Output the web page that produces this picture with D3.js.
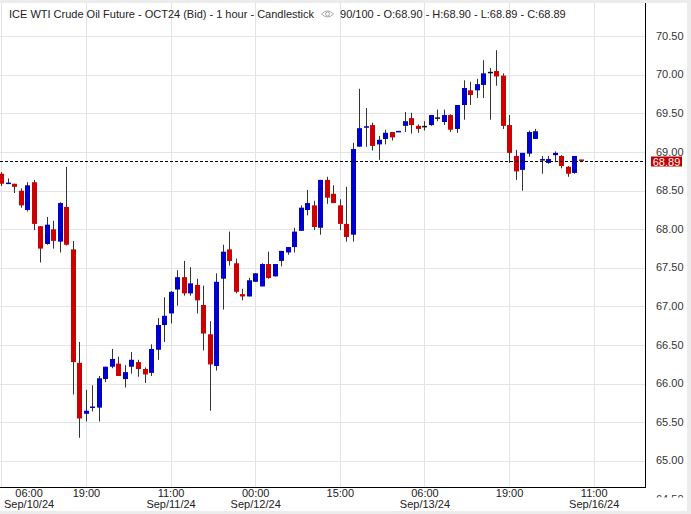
<!DOCTYPE html>
<html><head><meta charset="utf-8">
<script src="https://cdn.jsdelivr.net/npm/d3@7"></script>
<style>
html,body{margin:0;padding:0;background:#ececec;}
svg{display:block;font-family:"Liberation Sans",Arial,sans-serif;}
</style>
</head><body>
<svg id="chart" width="691" height="514"></svg>
<script>
// ---- data (hourly candles, index 0 = 06:00 Sep/10/24) ----
const openV  = [68.72,68.59,68.59,68.50,68.25,68.61,68.04,67.81,68.00,67.84,68.29,67.74,66.27,65.61,65.69,65.69,66.06,66.22,66.26,66.06,
66.22,66.28,66.19,66.14,66.44,66.76,66.91,67.22,67.38,67.17,67.28,67.02,66.64,66.23,67.36,67.74,67.56,67.16,67.13,67.32,
67.26,67.55,67.39,67.59,67.70,67.77,67.98,68.25,68.31,68.02,68.64,68.46,68.31,68.07,67.93,69.07,69.32,69.35,69.10,69.17,
69.26,69.26,69.34,69.44,69.34,69.33,69.35,69.44,69.39,69.48,69.30,69.61,69.80,69.80,69.87,70.03,70.05,69.99,69.35,68.95,
68.77,68.98,69.17,68.89,68.86,68.96,68.95,68.81,68.73,68.90];
const highV  = [68.74,68.66,68.59,68.53,68.61,68.64,68.04,68.16,68.11,68.35,68.81,67.85,66.54,65.92,65.98,66.10,66.22,66.45,66.35,66.24,
66.41,66.31,66.21,66.51,66.85,67.12,67.20,67.47,67.59,67.51,67.36,67.27,66.81,67.43,67.80,67.97,67.62,67.23,67.37,67.43,
67.56,67.71,67.55,67.72,67.77,68.02,68.31,68.51,68.37,68.64,68.68,68.57,68.39,68.55,69.12,69.82,69.57,69.38,69.21,69.29,
69.26,69.27,69.52,69.51,69.36,69.40,69.48,69.55,69.55,69.49,69.61,69.93,69.91,69.95,70.19,70.09,70.32,70.02,69.48,69.03,
68.99,69.28,69.30,68.95,68.95,69.01,68.96,68.82,68.95,68.90];
const lowV   = [68.56,68.59,68.47,68.28,68.23,67.99,67.57,67.80,67.75,67.70,67.79,65.86,65.30,65.51,65.64,65.51,66.02,66.20,66.10,65.95,
66.13,66.09,66.01,66.10,66.31,66.54,66.78,67.01,67.14,67.14,66.91,66.43,65.65,66.17,66.96,67.53,67.17,67.08,67.13,67.32,
67.26,67.36,67.39,67.52,67.67,67.70,67.98,68.18,67.99,67.93,68.33,68.34,67.99,67.84,67.84,69.07,69.07,69.02,68.90,69.10,
69.15,69.26,69.26,69.24,69.25,69.28,69.34,69.40,69.35,69.26,69.25,69.42,69.61,69.70,69.70,69.42,69.86,69.30,68.86,68.64,
68.50,68.94,69.17,68.72,68.85,68.87,68.79,68.68,68.72,68.89];
const closeV = [68.59,68.60,68.55,68.31,68.57,68.07,67.75,68.06,67.85,68.34,67.80,66.28,65.55,65.65,65.70,66.07,66.22,66.32,66.10,66.15,
66.31,66.19,66.12,66.45,66.76,66.88,67.19,67.38,67.17,67.30,67.08,66.65,66.25,67.32,67.71,67.59,67.19,67.13,67.34,67.43,
67.55,67.37,67.55,67.72,67.77,67.97,68.28,68.34,68.03,68.64,68.41,68.34,68.07,67.90,69.04,69.31,69.33,69.08,69.16,69.25,
69.19,69.27,69.40,69.35,69.30,69.33,69.48,69.44,69.48,69.29,69.61,69.83,69.74,69.88,70.02,70.03,69.98,69.34,68.99,68.75,
68.99,69.26,69.27,68.91,68.91,68.99,68.82,68.72,68.95,68.89];

const tickIndex = [0, 13, 26, 39, 52, 65, 78, 91];
const tickTime  = ["06:00", "19:00", "11:00", "00:00", "15:00", "06:00", "19:00", "11:00"];
const tickDate  = ["Sep/10/24", "", "Sep/11/24", "Sep/12/24", "", "Sep/13/24", "", "Sep/16/24"];
const yTicks = [64.5, 65, 65.5, 66, 66.5, 67, 67.5, 68, 68.5, 69, 69.5, 70, 70.5];
const lastPrice = 68.89;
const titleMain = "ICE WTI Crude Oil Future - OCT24 (Bid) - 1 hour - Candlestick";
const titleInfo = "90/100 - O:68.90 - H:68.90 - L:68.89 - C:68.89";

// ---- layout ----
const svg = d3.select("#chart");
const plotL = 0, plotR = 645, plotT = 3, plotB = 487;
const UP = "#0000cc", DOWN = "#cc0000", FLAT = "#111", WICK = "#333";

const x = d3.scaleLinear().domain([0, 91]).range([1.3, 593.7]);
const y = d3.scaleLinear().domain([65, 70.5]).range([460.9, 36.3]);

svg.append("rect").attr("x", 0).attr("y", 3).attr("width", 687).attr("height", 508).attr("fill", "#fff");

const defs = svg.append("defs");
defs.append("clipPath").attr("id", "plotClip").append("rect")
  .attr("x", plotL).attr("y", plotT).attr("width", plotR - plotL).attr("height", plotB - plotT);
defs.append("clipPath").attr("id", "axisClip").append("rect")
  .attr("x", plotR + 1).attr("y", plotT).attr("width", 45).attr("height", 494.5);

// grid
const grid = svg.append("g");
grid.selectAll("line.h").data(yTicks.filter(v => y(v) > plotT && y(v) < plotB)).join("line")
  .attr("x1", plotL).attr("x2", plotR)
  .attr("y1", d => Math.round(y(d)) + 0.5).attr("y2", d => Math.round(y(d)) + 0.5)
  .attr("stroke", "#e4e4e4").attr("stroke-width", 1);
grid.selectAll("line.v").data(tickIndex).join("line")
  .attr("x1", d => Math.round(x(d)) + 0.5).attr("x2", d => Math.round(x(d)) + 0.5)
  .attr("y1", plotT).attr("y2", plotB)
  .attr("stroke", "#e4e4e4").attr("stroke-width", 1);

// candles
const data = openV.map((o, i) => ({i, o, h: highV[i], l: lowV[i], c: closeV[i]}));
const cg = svg.append("g").attr("clip-path", "url(#plotClip)");
const cand = cg.selectAll("g.c").data(data).join("g");
cand.append("line")
  .attr("x1", d => Math.round(x(d.i)) + 0.5).attr("x2", d => Math.round(x(d.i)) + 0.5)
  .attr("y1", d => y(d.h)).attr("y2", d => y(d.l))
  .attr("stroke", WICK).attr("stroke-width", 1);
cand.append("rect")
  .attr("x", d => Math.round(x(d.i)) - 2)
  .attr("width", 5)
  .attr("y", d => {
    const t = y(Math.max(d.o, d.c)), b = y(Math.min(d.o, d.c));
    return (b - t) < 1.5 ? (t + b) / 2 - 0.75 : t;
  })
  .attr("height", d => Math.max(1.5, Math.abs(y(d.o) - y(d.c))))
  .attr("fill", d => d.c > d.o ? UP : (d.c < d.o ? DOWN : FLAT));

// last price dashed line
svg.append("line")
  .attr("x1", plotL).attr("x2", plotR)
  .attr("y1", Math.round(y(lastPrice)) + 0.5).attr("y2", Math.round(y(lastPrice)) + 0.5)
  .attr("stroke", "#000").attr("stroke-width", 1).attr("stroke-dasharray", "3,2");

// borders
svg.append("line").attr("x1", plotR + 0.5).attr("x2", plotR + 0.5).attr("y1", plotT).attr("y2", plotB + 0.5)
  .attr("stroke", "#000").attr("stroke-width", 1);
svg.append("line").attr("x1", plotL).attr("x2", plotR + 1).attr("y1", plotB + 0.5).attr("y2", plotB + 0.5)
  .attr("stroke", "#000").attr("stroke-width", 1);

// y axis labels
const ya = svg.append("g").attr("clip-path", "url(#axisClip)");
ya.selectAll("text").data(yTicks).join("text")
  .attr("x", 656).attr("y", d => y(d) - 0.5)
  .attr("dominant-baseline", "central")
  .attr("font-size", 11).attr("fill", "#333")
  .text(d => d.toFixed(2));

// last price tag
svg.append("rect").attr("x", 651).attr("y", Math.round(y(lastPrice)) - 4.5).attr("width", 31).attr("height", 10)
  .attr("fill", "#c00000");
svg.append("text").attr("x", 666.5).attr("y", Math.round(y(lastPrice)) + 0.5)
  .attr("dominant-baseline", "central").attr("text-anchor", "middle")
  .attr("font-size", 11).attr("fill", "#fff").text(lastPrice.toFixed(2));

// x axis labels
const xa = svg.append("g");
tickIndex.forEach((ti, k) => {
  const g = xa.append("g");
  const t1 = g.append("text").attr("y", 493).attr("dominant-baseline", "central")
    .attr("text-anchor", "middle").attr("font-size", 11).attr("fill", "#222").text(tickTime[k]);
  const t2 = g.append("text").attr("y", 503.5).attr("dominant-baseline", "central")
    .attr("text-anchor", "middle").attr("font-size", 11).attr("fill", "#222").text(tickDate[k]);
  const half = Math.max(t1.node().getComputedTextLength(), t2.node().getComputedTextLength()) / 2;
  const cx = Math.max(x(ti) + 0.5, half + 4);
  t1.attr("x", cx); t2.attr("x", cx);
});

// title
const tt = svg.append("text").attr("x", 9).attr("y", 17.5).attr("font-size", 11).attr("fill", "#222").text(titleMain);
const endX = 9 + tt.node().getComputedTextLength();
const eye = svg.append("g").attr("transform", `translate(${endX + 13.5},14)`);
eye.append("path").attr("d", "M-6,0 Q0,-6 6,0 Q0,6 -6,0 Z").attr("fill", "none").attr("stroke", "#aaa").attr("stroke-width", 1);
eye.append("circle").attr("r", 2).attr("fill", "none").attr("stroke", "#aaa").attr("stroke-width", 1);
svg.append("text").attr("x", endX + 26).attr("y", 17.5).attr("font-size", 11).attr("fill", "#222").text(titleInfo);
</script>
</body></html>
